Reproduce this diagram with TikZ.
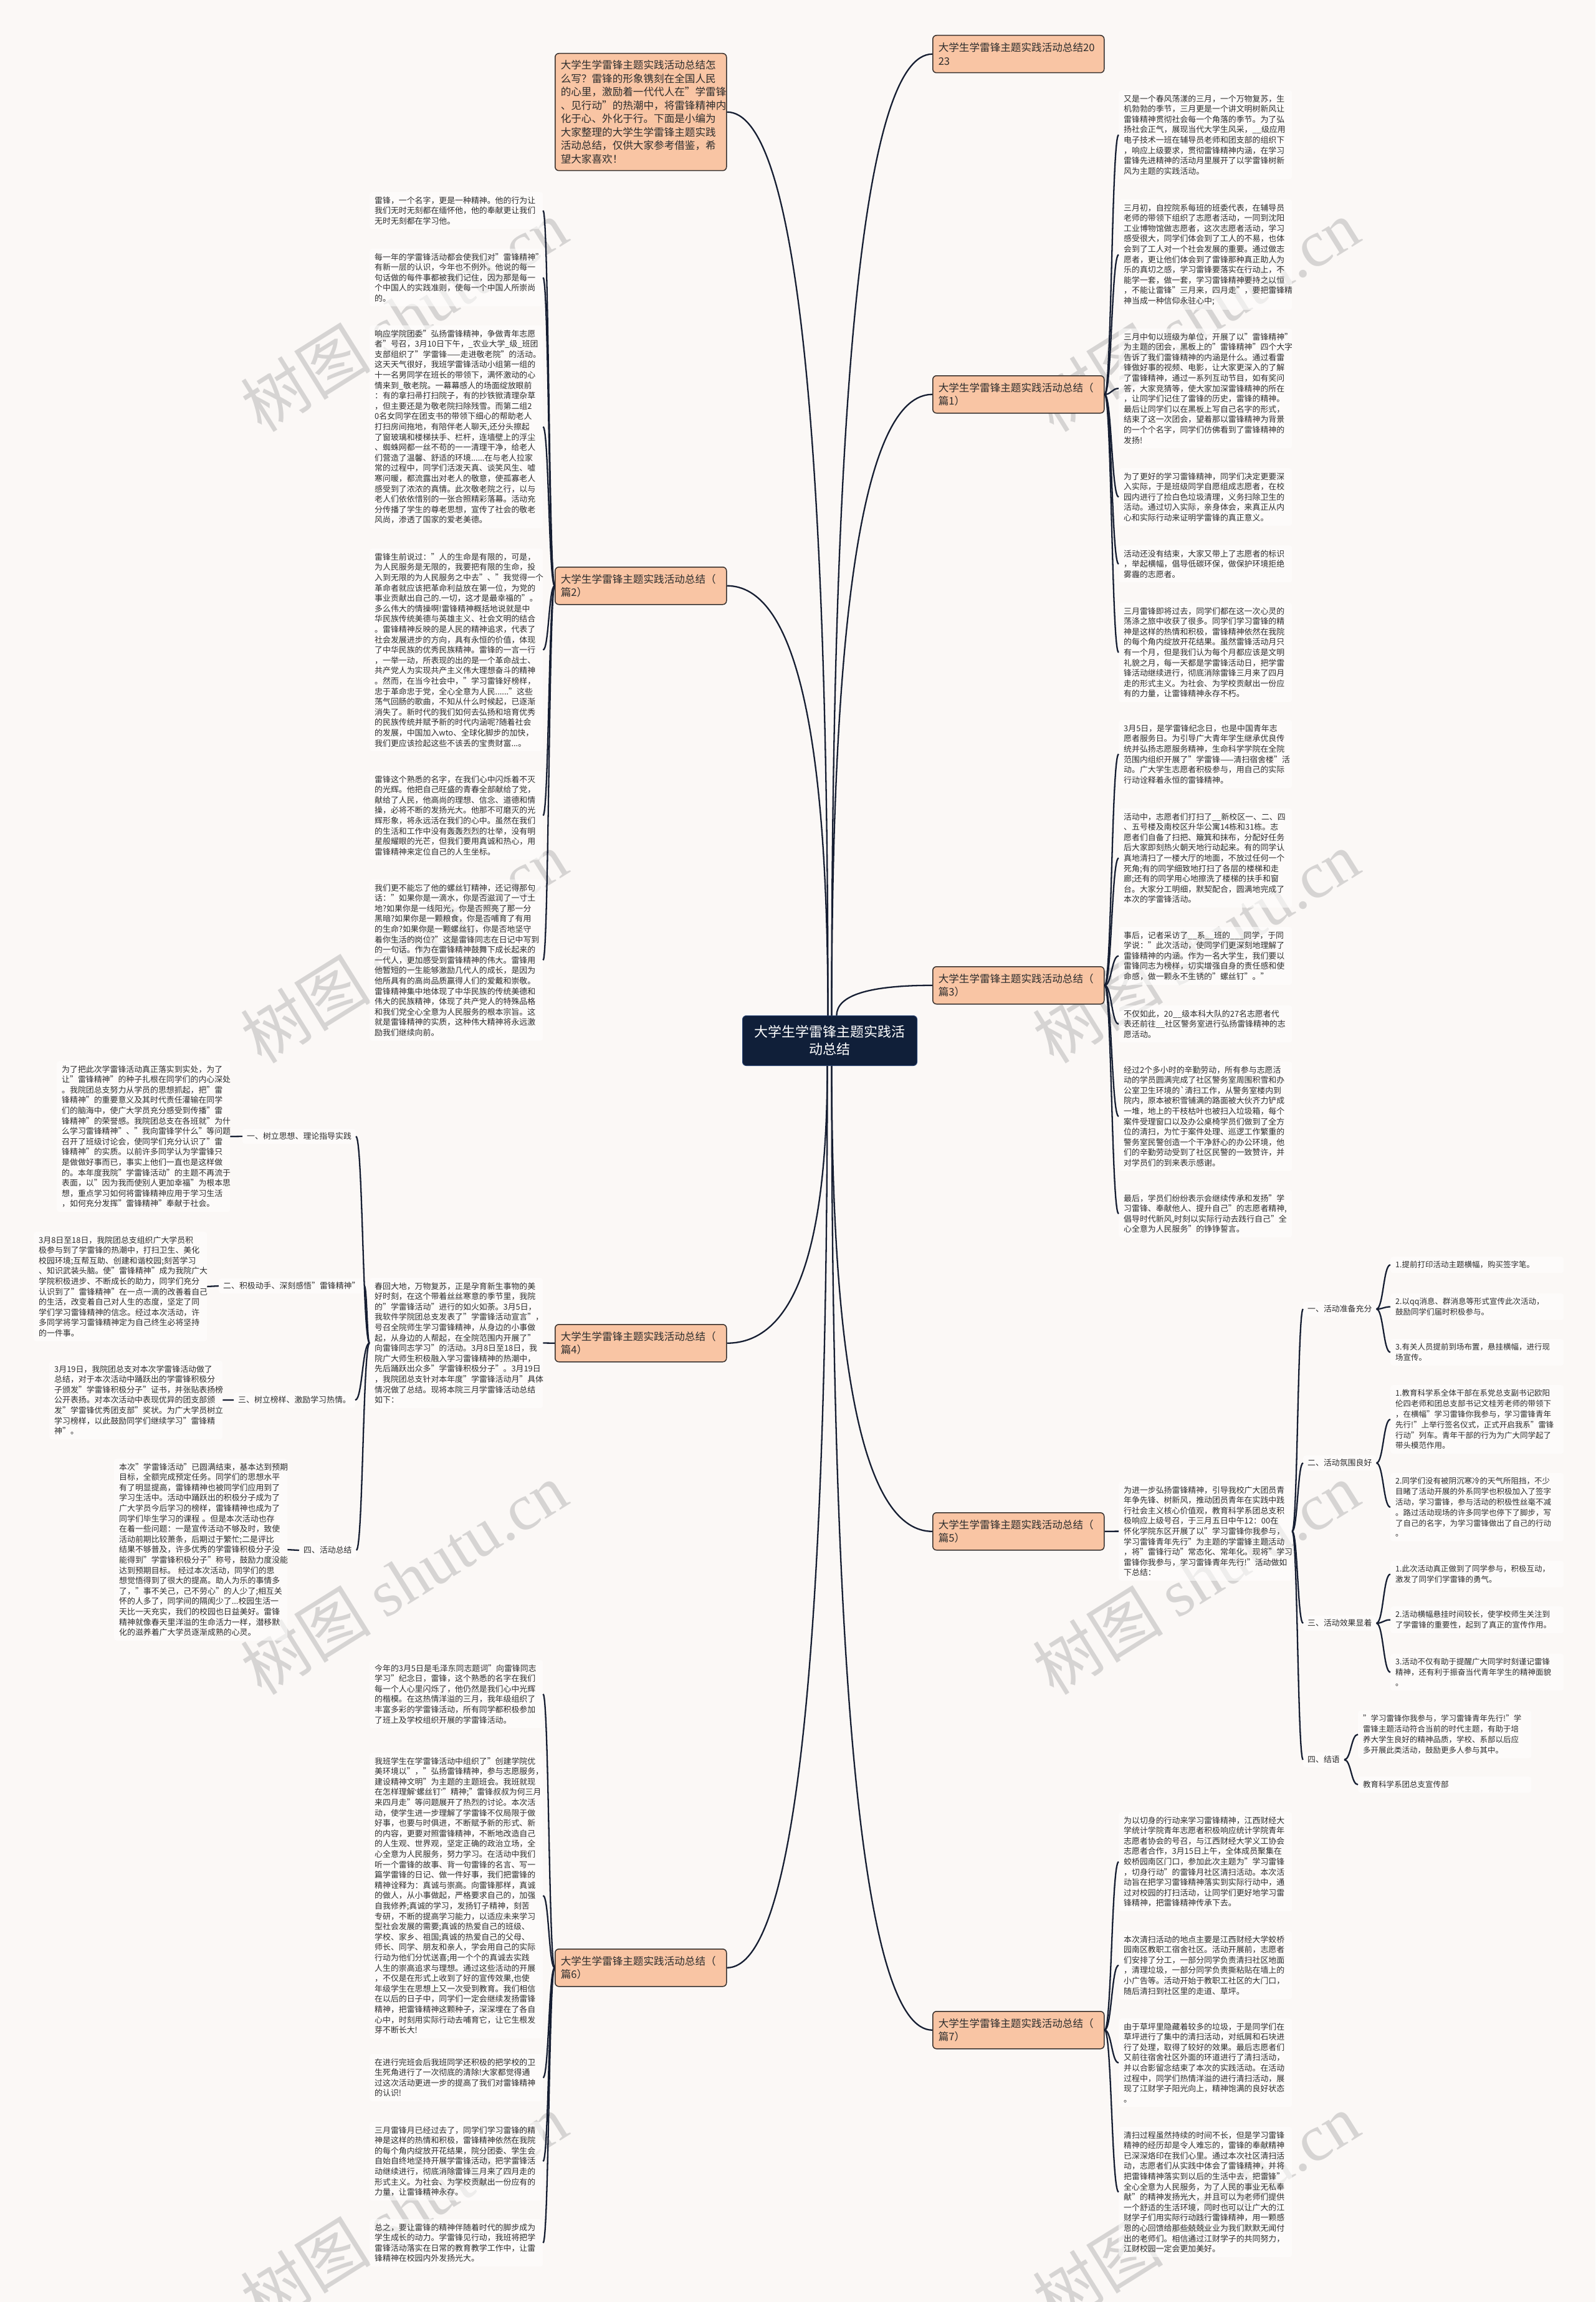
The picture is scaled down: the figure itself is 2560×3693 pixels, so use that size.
\documentclass[tikz,border=0pt]{standalone}
\usepackage{fontspec}
\setmainfont{Noto Sans CJK SC}
\newfontfamily\wmlat{Liberation Serif}
\newfontfamily\latq{Liberation Sans}
\usetikzlibrary{calc}
\definecolor{bgc}{RGB}{251,248,246}
\definecolor{boxc}{RGB}{255,254,253}
\definecolor{txtc}{RGB}{45,45,45}
\definecolor{peach}{RGB}{249,197,164}
\definecolor{bordc}{RGB}{55,48,45}
\definecolor{navy}{RGB}{16,31,57}
\definecolor{navyb}{RGB}{35,62,110}
\definecolor{linec}{RGB}{22,30,50}
\definecolor{wmc}{RGB}{214,212,211}
\tikzset{
 txt/.style={anchor=north west, align=left, text width=262pt, font=\fontsize{12.9pt}{16.6pt}\selectfont, text=txtc, fill=boxc, fill opacity=0.6, text opacity=1, rounded corners=4pt, inner xsep=8pt, inner ysep=7pt},
 leaf/.style={txt, font=\fontsize{12.5pt}{16.8pt}\selectfont},
 lbl/.style={anchor=west, font=\fontsize{12.9pt}{16.6pt}\selectfont, text=txtc, fill=boxc, fill opacity=0.6, text opacity=1, rounded corners=4pt, inner xsep=7pt, inner ysep=6pt},
 pbox/.style={anchor=north west, align=left, text width=257pt, draw=bordc, line width=1.5pt, fill=peach, rounded corners=6pt, inner xsep=9pt, inner ysep=8pt, minimum height=60pt, font=\fontsize{16.6pt}{21.5pt}\selectfont, text=txtc},
 cbox/.style={anchor=north west, align=center, text width=244pt, fill=navy, draw=navyb, line width=1pt, rounded corners=6pt, inner xsep=18pt, minimum height=80pt, font=\fontsize{22pt}{28pt}\selectfont, text=white},
 conn/.style={draw=linec, line width=2.3pt},
 wm/.style={text=wmc, font=\fontsize{105pt}{105pt}\selectfont, rotate=32},
}
\newcommand\lnk[2]{\draw[conn] let \p1=(#1), \p2=(#2) in (\p1) .. controls ({(\x1+\x2)/2},\y1) and ({(\x1+\x2)/2},\y2) .. (\p2);}
\newcommand\lnkq[2]{\draw[conn] let \p1=(#1), \p2=(#2) in (\p1) .. controls (\x1,{\y1+2/3*(\y2-\y1)}) and ({\x2+2/3*(\x1-\x2)},\y2) .. (\p2);}
\newcommand\tb[4]{\node[txt] (#1) at (#2-8,#3-13) {#4};}
\newcommand\lf[4]{\node[leaf] (#1) at (#2-8,#3-13) {#4};}
\begin{document}
\XeTeXdashbreakstate=0
\hyphenpenalty=10000
\exhyphenpenalty=10000
\begin{tikzpicture}[x=1pt,y=-1pt]
\fill[bgc] (0,0) rectangle (2560,3693);
\useasboundingbox (0,0) rectangle (2560,3693);
% watermarks
\foreach \wx in {648,1919}{
 \foreach \wy in {506,1519,2532,3544}{
  \node[wm] at (\wx,\wy) {树图 {\wmlat shutu.cn}};
 }
}
% main boxes
\node[pbox, inner ysep=11pt] (intro) at (890,85) {大学生学雷锋主题实践活动总结怎\\么写？雷锋的形象镌刻在全国人民\\的心里，激励着一代代人在"学雷锋\\、见行动"的热潮中，将雷锋精神内\\化于心、外化于行。下面是小编为\\大家整理的大学生学雷锋主题实践\\活动总结，仅供大家参考借鉴，希\\望大家喜欢！};
\node[pbox] (p2) at (890,909) {大学生学雷锋主题实践活动总结（\\篇2）};
\node[pbox] (p4) at (890,2124) {大学生学雷锋主题实践活动总结（\\篇4）};
\node[pbox] (p6) at (890,3126) {大学生学雷锋主题实践活动总结（\\篇6）};
\node[pbox] (p0) at (1496,56) {大学生学雷锋主题实践活动总结20\\23};
\node[pbox] (p1) at (1496,602) {大学生学雷锋主题实践活动总结（\\篇1）};
\node[pbox] (p3) at (1496,1550) {大学生学雷锋主题实践活动总结（\\篇3）};
\node[pbox] (p5) at (1496,2426) {大学生学雷锋主题实践活动总结（\\篇5）};
\node[pbox] (p7) at (1496,3226) {大学生学雷锋主题实践活动总结（\\篇7）};
% center
\node[cbox] (c) at (1191,1629) {大学生学雷锋主题实践活\\动总结};
\coordinate (ctl) at ($(c.north)+(-3,0)$);
\coordinate (ctr) at ($(c.north)+(3,0)$);
\coordinate (ct3) at ($(c.north)+(11,0)$);
\coordinate (cbl) at ($(c.south)+(-4,0)$);
\coordinate (cbr) at ($(c.south)+(3,0)$);
\lnkq{ctl}{intro.east}
\lnkq{ctl}{p2.east}
\lnkq{ctr}{p0.west}
\lnkq{ctr}{p1.west}
\lnkq{ct3}{p3.west}
\lnkq{cbl}{p4.east}
\lnkq{cbl}{p6.east}
\lnkq{cbr}{p5.west}
\lnkq{cbr}{p7.west}
% ---- 篇2
\tb{b1}{601}{321}{雷锋，一个名字，更是一种精神。他的行为让\\我们无时无刻都在缅怀他，他的奉献更让我们\\无时无刻都在学习他。}
\tb{b2}{601}{412}{每一年的学雷锋活动都会使我们对"雷锋精神"\\有新一层的认识，今年也不例外。他说的每一\\句话做的每件事都被我们记住，因为那是每一\\个中国人的实践准则，使每一个中国人所崇尚\\的。}
\tb{b3}{601}{535}{响应学院团委"弘扬雷锋精神，争做青年志愿\\者"号召，3月10日下午，\_农业大学\_级\_班团\\支部组织了"学雷锋——走进敬老院"的活动。\\这天天气很好，我班学雷锋活动小组第一组的\\十一名男同学在班长的带领下，满怀激动的心\\情来到\_敬老院。一幕幕感人的场面绽放眼前\\：有的拿扫帚打扫院子，有的抄铁锨清理杂草\\，但主要还是为敬老院扫除残雪。而第二组2\\0名女同学在团支书的带领下细心的帮助老人\\打扫房间拖地，有陪伴老人聊天,还分头擦起\\了窗玻璃和楼梯扶手、栏杆，连墙壁上的浮尘\\、蜘蛛网都一丝不苟的一一清理干净，给老人\\们营造了温馨、舒适的环境......在与老人拉家\\常的过程中，同学们活泼天真、谈笑风生、嘘\\寒问暖，都流露出对老人的敬意，使孤寡老人\\感受到了浓浓的真情。此次敬老院之行，以与\\老人们依依惜别的一张合照精彩落幕。活动充\\分传播了学生的尊老思想，宣传了社会的敬老\\风尚，渗透了国家的爱老美德。}
\tb{b4}{601}{893}{雷锋生前说过："人的生命是有限的，可是，\\为人民服务是无限的，我要把有限的生命，投\\入到无限的为人民服务之中去"、"我觉得一个\\革命者就应该把革命利益放在第一位，为党的\\事业贡献出自己的.一切，这才是最幸福的"。\\多么伟大的情操啊!雷锋精神概括地说就是中\\华民族传统美德与英雄主义、社会文明的结合\\。雷锋精神反映的是人民的精神追求，代表了\\社会发展进步的方向，具有永恒的价值，体现\\了中华民族的优秀民族精神。雷锋的一言一行\\，一举一动，所表现的出的是一个革命战士、\\共产党人为实现共产主义伟大理想奋斗的精神\\。然而，在当今社会中，"学习雷锋好榜样，\\忠于革命忠于党，全心全意为人民......"这些\\荡气回肠的歌曲，不知从什么时候起，已逐渐\\消失了。新时代的我们如何去弘扬和培育优秀\\的民族传统并赋予新的时代内涵呢?随着社会\\的发展，中国加入wto、全球化脚步的加快，\\我们更应该捡起这些不该丢的宝贵财富...。}
\tb{b5}{601}{1250}{雷锋这个熟悉的名字，在我们心中闪烁着不灭\\的光辉。他把自己旺盛的青春全部献给了党，\\献给了人民，他高尚的理想、信念、道德和情\\操，必将不断的发扬光大。他那不可磨灭的光\\辉形象，将永远活在我们的心中。虽然在我们\\的生活和工作中没有轰轰烈烈的壮举，没有明\\星般耀眼的光芒，但我们要用真诚和热心，用\\雷锋精神来定位自己的人生坐标。}
\tb{b6}{601}{1424}{我们更不能忘了他的螺丝钉精神，还记得那句\\话："如果你是一滴水，你是否滋润了一寸土\\地?如果你是一线阳光，你是否照亮了那一分\\黑暗?如果你是一颗粮食，你是否哺育了有用\\的生命?如果你是一颗螺丝钉，你是否地坚守\\着你生活的岗位?"这是雷锋同志在日记中写到\\的一句话。作为在雷锋精神鼓舞下成长起来的\\一代人，更加感受到雷锋精神的伟大。雷锋用\\他暂短的一生能够激励几代人的成长，是因为\\他所具有的高尚品质赢得人们的爱戴和崇敬。\\雷锋精神集中地体现了中华民族的传统美德和\\伟大的民族精神，体现了共产党人的特殊品格\\和我们党全心全意为人民服务的根本宗旨。这\\就是雷锋精神的实质，这种伟大精神将永远激\\励我们继续向前。}
\foreach \k in {b1,b2,b3,b4,b5,b6}{\lnk{p2.west}{\k.east}}
% ---- 篇4
\tb{g}{601}{2063}{春回大地，万物复苏，正是孕育新生事物的美\\好时刻，在这个带着丝丝寒意的季节里，我院\\的"学雷锋活动"进行的如火如荼。3月5日，\\我软件学院团总支发表了"学雷锋活动宣言"，\\号召全院师生学习雷锋精神，从身边的小事做\\起，从身边的人帮起，在全院范围内开展了"\\向雷锋同志学习"的活动。3月8日至18日，我\\院广大师生积极融入学习雷锋精神的热潮中，\\先后踊跃出众多"学雷锋积极分子"。3月19日\\，我院团总支针对本年度"学雷锋活动月"具体\\情况做了总结。现将本院三月学雷锋活动总结\\如下：}
\lnk{p4.west}{g.east}
\node[lbl] (g1) at (389,1823) {一、树立思想、理论指导实践};
\node[lbl] (g2) at (351,2063) {二、积极动手、深刻感悟"雷锋精神"};
\node[lbl] (g3) at (375,2246) {三、树立榜样、激励学习热情。};
\node[lbl] (g4) at (480,2487) {四、活动总结};
\foreach \k in {g1,g2,g3,g4}{\lnk{g.west}{\k.east}}
\tb{l1}{99}{1715}{为了把此次学雷锋活动真正落实到实处，为了\\让"雷锋精神"的种子扎根在同学们的内心深处\\。我院团总支努力从学员的思想抓起，把"雷\\锋精神"的重要意义及其时代责任灌输在同学\\们的脑海中，使广大学员充分感受到传播"雷\\锋精神"的荣誉感。我院团总支在各班就"为什\\么学习雷锋精神"、"我向雷锋学什么"等问题\\召开了班级讨论会，使同学们充分认识了"雷\\锋精神"的实质。以前许多同学认为学雷锋只\\是做做好事而已，事实上他们一直也是这样做\\的。本年度我院"学雷锋活动"的主题不再流于\\表面，以"因为我而使别人更加幸福"为根本思\\想，重点学习如何将雷锋精神应用于学习生活\\，如何充分发挥"雷锋精神"奉献于社会。}
\tb{l2}{62}{1989}{3月8日至18日，我院团总支组织广大学员积\\极参与到了学雷锋的热潮中，打扫卫生、美化\\校园环境;互帮互助、创建和谐校园;刻苦学习\\、知识武装头脑。使"雷锋精神"成为我院广大\\学院积极进步、不断成长的助力，同学们充分\\认识到了"雷锋精神"在一点一滴的改善着自己\\的生活，改变着自己对人生的态度，坚定了同\\学们学习雷锋精神的信念。经过本次活动，许\\多同学将学习雷锋精神定为自己终生必将坚持\\的一件事。}
\tb{l3}{87}{2196}{3月19日，我院团总支对本次学雷锋活动做了\\总结，对于本次活动中踊跃出的学雷锋积极分\\子颁发"学雷锋积极分子"证书，并张贴表扬榜\\公开表扬。对本次活动中表现优异的团支部颁\\发"学雷锋优秀团支部"奖状。为广大学员树立\\学习榜样，以此鼓励同学们继续学习"雷锋精\\神"。}
\tb{l4}{191}{2353}{本次"学雷锋活动"已圆满结束，基本达到预期\\目标，全额完成预定任务。同学们的思想水平\\有了明显提高，雷锋精神也被同学们应用到了\\学习生活中。活动中踊跃出的积极分子成为了\\广大学员今后学习的榜样，雷锋精神也成为了\\同学们毕生学习的课程~。但是本次活动也存\\在着一些问题：一是宣传活动不够及时，致使\\活动前期比较萧条，后期过于繁忙;二是评比\\结果不够普及，许多优秀的学雷锋积极分子没\\能得到"学雷锋积极分子"称号，鼓励力度没能\\达到预期目标。~经过本次活动，同学们的思\\想觉悟得到了很大的提高。助人为乐的事情多\\了，"事不关己，己不劳心"的人少了;相互关\\怀的人多了，同学间的隔阂少了...校园生活一\\天比一天充实，我们的校园也日益美好。雷锋\\精神就像春天里洋溢的生命活力一样，潜移默\\化的滋养着广大学员逐渐成熟的心灵。}
\draw[conn] (l1.east) -- (g1.west);
\draw[conn] (l2.east) -- (g2.west);
\draw[conn] (l3.east) -- (g3.west);
\draw[conn] (l4.east) -- (g4.west);
% ---- 篇6
\tb{h1}{601}{2676}{今年的3月5日是毛泽东同志题词"向雷锋同志\\学习"纪念日，雷锋，这个熟悉的名字在我们\\每一个人心里闪烁了，他仍然是我们心中光辉\\的楷模。在这热情洋溢的三月，我年级组织了\\丰富多彩的学雷锋活动，所有同学都积极参加\\了班上及学校组织开展的学雷锋活动。}
\tb{h2}{601}{2825}{我班学生在学雷锋活动中组织了"创建学院优\\美环境以"，"弘扬雷锋精神，参与志愿服务，\\建设精神文明"为主题的主题班会。我班就现\\在怎样理解{\latq ‘}螺丝钉{\latq ’}"精神;"雷锋叔叔为何三月\\来四月走"等问题展开了热烈的讨论。本次活\\动，使学生进一步理解了学雷锋不仅局限于做\\好事，也要与时俱进，不断赋予新的形式、新\\的内容，更要对照雷锋精神，不断地改造自己\\的人生观、世界观，坚定正确的政治立场，全\\心全意为人民服务，努力学习。在活动中我们\\听一个雷锋的故事、背一句雷锋的名言、写一\\篇学雷锋的日记、做一件好事，我们把雷锋的\\精神诠释为：真诚与崇高。向雷锋那样，真诚\\的做人，从小事做起，严格要求自己的，加强\\自我修养;真诚的学习，发扬钉子精神，刻苦\\专研，不断的提高学习能力，以适应未来学习\\型社会发展的需要;真诚的热爱自己的班级、\\学校、家乡、祖国;真诚的热爱自己的父母、\\师长、同学、朋友和亲人，学会用自己的实际\\行动为他们分忧送喜;用一个个的真诚去实践\\人生的崇高追求与理想。通过这些活动的开展\\，不仅是在形式上收到了好的宣传效果,也使\\年级学生在思想上又一次受到教育。我们相信\\在以后的日子中，同学们一定会继续发扬雷锋\\精神，把雷锋精神这颗种子，深深埋在了各自\\心中，时刻用实际行动去哺育它，让它生根发\\芽不断长大!}
\tb{h3}{601}{3308}{在进行完班会后我班同学还积极的把学校的卫\\生死角进行了一次彻底的清除!大家都觉得通\\过这次活动更进一步的提高了我们对雷锋精神\\的认识!}
\tb{h4}{601}{3417}{三月雷锋月已经过去了，同学们学习雷锋的精\\神是这样的热情和积极，雷锋精神依然在我院\\的每个角内绽放开花结果，院分团委、学生会\\自始自终地坚持开展学雷锋活动，把学雷锋活\\动继续进行，彻底消除雷锋三月来了四月走的\\形式主义。为社会、为学校贡献出一份应有的\\力量，让雷锋精神永存。}
\tb{h5}{601}{3573}{总之，要让雷锋的精神伴随着时代的脚步成为\\学生成长的动力。学雷锋见行动，我班将把学\\雷锋活动落实在日常的教育教学工作中，让雷\\锋精神在校园内外发扬光大。}
\foreach \k in {h1,h2,h3,h4,h5}{\lnk{p6.west}{\k.east}}
% ---- 篇1
\tb{q1}{1803}{158}{又是一个春风荡漾的三月，一个万物复苏，生\\机勃勃的季节，三月更是一个讲文明树新风让\\雷锋精神贯彻社会每一个角落的季节。为了弘\\扬社会正气，展现当代大学生风采，\_\_级应用\\电子技术一班在辅导员老师和团支部的组织下\\，响应上级要求，贯彻雷锋精神内涵，在学习\\雷锋先进精神的活动月里展开了以学雷锋树新\\风为主题的实践活动。}
\tb{q2}{1803}{333}{三月初，自控院系每班的班委代表，在辅导员\\老师的带领下组织了志愿者活动，一同到沈阳\\工业博物馆做志愿者，这次志愿者活动，学习\\感受很大，同学们体会到了工人的不易，也体\\会到了工人对一个社会发展的重要。通过做志\\愿者，更让他们体会到了雷锋那种真正助人为\\乐的真切之感，学习雷锋要落实在行动上，不\\能学一套，做一套，学习雷锋精神要持之以恒\\，不能让雷锋"三月来，四月走"，要把雷锋精\\神当成一种信仰永驻心中;}
\tb{q3}{1803}{540}{三月中旬以班级为单位，开展了以"雷锋精神"\\为主题的团会，黑板上的"雷锋精神"四个大字\\告诉了我们雷锋精神的内涵是什么。通过看雷\\锋做好事的视频、电影，让大家更深入的了解\\了雷锋精神，通过一系列互动节目，如有奖问\\答，大家竞猜等，使大家加深雷锋精神的所在\\，让同学们记住了雷锋的历史，雷锋的精神。\\最后让同学们以在黑板上写自己名字的形式，\\结束了这一次团会，望着那以雷锋精神为背景\\的一个个名字，同学们仿佛看到了雷锋精神的\\发扬!}
\tb{q4}{1803}{764}{为了更好的学习雷锋精神，同学们决定更要深\\入实际，于是班级同学自愿组成志愿者，在校\\园内进行了捡白色垃圾清理，义务扫除卫生的\\活动。通过切入实际，亲身体会，来真正从内\\心和实际行动来证明学雷锋的真正意义。}
\tb{q5}{1803}{888}{活动还没有结束，大家又带上了志愿者的标识\\，举起横幅，倡导低碳环保，做保护环境拒绝\\雾霾的志愿者。}
\tb{q6}{1803}{980}{三月雷锋即将过去，同学们都在这一次心灵的\\荡涤之旅中收获了很多。同学们学习雷锋的精\\神是这样的热情和积极，雷锋精神依然在我院\\的每个角内绽放开花结果。虽然雷锋活动月只\\有一个月，但是我们认为每个月都应该是文明\\礼貌之月，每一天都是学雷锋活动日，把学雷\\锋活动继续进行，彻底消除雷锋三月来了四月\\走的形式主义。为社会、为学校贡献出一份应\\有的力量，让雷锋精神永存不朽。}
\foreach \k in {q1,q2,q3,q4,q5,q6}{\lnk{p1.east}{\k.west}}
% ---- 篇3
\tb{w1}{1803}{1168}{3月5日，是学雷锋纪念日，也是中国青年志\\愿者服务日。为引导广大青年学生继承优良传\\统并弘扬志愿服务精神，生命科学学院在全院\\范围内组织开展了"学雷锋——清扫宿舍楼"活\\动。广大学生志愿者积极参与，用自己的实际\\行动诠释着永恒的雷锋精神。}
\tb{w2}{1803}{1310}{活动中，志愿者们打扫了\_\_新校区一、二、四\\、五号楼及南校区升华公寓14栋和31栋。志\\愿者们自备了扫把、簸箕和抹布，分配好任务\\后大家即刻热火朝天地行动起来。有的同学认\\真地清扫了一楼大厅的地面，不放过任何一个\\死角;有的同学细致地打扫了各层的楼梯和走\\廊;还有的同学用心地擦洗了楼梯的扶手和窗\\台。大家分工明细，默契配合，圆满地完成了\\本次的学雷锋活动。}
\tb{w3}{1803}{1500}{事后，记者采访了\_\_系\_\_班的\_\_\_同学，于同\\学说："此次活动，使同学们更深刻地理解了\\雷锋精神的内涵。作为一名大学生，我们要以\\雷锋同志为榜样，切实增强自身的责任感和使\\命感，做一颗永不生锈的"螺丝钉"。"}
\tb{w4}{1803}{1626}{不仅如此，20\_\_级本科大队的27名志愿者代\\表还前往\_\_社区警务室进行弘扬雷锋精神的志\\愿活动。}
\tb{w5}{1803}{1716}{经过2个多小时的辛勤劳动，所有参与志愿活\\动的学员圆满完成了社区警务室周围积雪和办\\公室卫生环境的\textasciigrave 清扫工作，从警务室楼内到\\院内，原本被积雪铺满的路面被大伙齐力铲成\\一堆，地上的干枝枯叶也被扫入垃圾箱，每个\\案件受理窗口以及办公桌椅学员们做到了全方\\位的清扫，为忙于案件处理、巡逻工作繁重的\\警务室民警创造一个干净舒心的办公环境，他\\们的辛勤劳动受到了社区民警的一致赞许，并\\对学员们的到来表示感谢。}
\tb{w6}{1803}{1922}{最后，学员们纷纷表示会继续传承和发扬"学\\习雷锋、奉献他人、提升自己"的志愿者精神,\\倡导时代新风,时刻以实际行动去践行自己"全\\心全意为人民服务"的铮铮誓言。}
\foreach \k in {w1,w2,w3,w4,w5,w6}{\lnk{p3.east}{\k.west}}
% ---- 篇5
\tb{ac}{1803}{2390}{为进一步弘扬雷锋精神，引导我校广大团员青\\年争先锋、树新风，推动团员青年在实践中践\\行社会主义核心价值观，教育科学系团总支积\\极响应上级号召，于三月五日中午12：00在\\怀化学院东区开展了以"学习雷锋你我参与，\\学习雷锋青年先行"为主题的学雷锋主题活动\\，将"雷锋行动"常态化、常年化。现将"学习\\雷锋你我参与，学习雷锋青年先行!"活动做如\\下总结：}
\lnk{p5.east}{ac.west}
\node[lbl] (s1) at (2091,2100) {一、活动准备充分};
\node[lbl] (s2) at (2091,2347) {二、活动氛围良好};
\node[lbl] (s3) at (2091,2604) {三、活动效果显着};
\node[lbl] (s4) at (2091,2823) {四、结语};
\foreach \k in {s1,s2,s3,s4}{\lnk{ac.east}{\k.west}}
\lf{a1}{2239}{2029}{1.提前打印活动主题横幅，购买签字笔。}
\lf{a2}{2239}{2088}{2.以qq消息、群消息等形式宣传此次活动，\\鼓励同学们届时积极参与。}
\lf{a3}{2239}{2161}{3.有关人员提前到场布置，悬挂横幅，进行现\\场宣传。}
\lf{b1x}{2239}{2235}{1.教育科学系全体干部在系党总支副书记欧阳\\伦四老师和团总支部书记文桂芳老师的带领下\\，在横幅"学习雷锋你我参与，学习雷锋青年\\先行!"上举行签名仪式，正式开启我系"雷锋\\行动"列车。青年干部的行为为广大同学起了\\带头模范作用。}
\lf{b2x}{2239}{2376}{2.同学们没有被阴沉寒冷的天气所阻挡，不少\\目睹了活动开展的外系同学也积极加入了签字\\活动，学习雷锋，参与活动的积极性丝毫不减\\。路过活动现场的许多同学也停下了脚步，写\\了自己的名字，为学习雷锋做出了自己的行动\\。}
\lf{c1x}{2239}{2517}{1.此次活动真正做到了同学参与，积极互动，\\激发了同学们学雷锋的勇气。}
\lf{c2x}{2239}{2590}{2.活动横幅悬挂时间较长，使学校师生关注到\\了学雷锋的重要性，起到了真正的宣传作用。}
\lf{c3x}{2239}{2666}{3.活动不仅有助于提醒广大同学时刻谨记雷锋\\精神，还有利于振奋当代青年学生的精神面貌\\。}
\lf{d1x}{2187}{2757}{"学习雷锋你我参与，学习雷锋青年先行!"学\\雷锋主题活动符合当前的时代主题，有助于培\\养大学生良好的精神品质，学校、系部以后应\\多开展此类活动，鼓励更多人参与其中。}
\lf{d2x}{2187}{2863}{教育科学系团总支宣传部}
\foreach \k in {a1,a2,a3}{\lnk{s1.east}{\k.west}}
\foreach \k in {b1x,b2x}{\lnk{s2.east}{\k.west}}
\foreach \k in {c1x,c2x,c3x}{\lnk{s3.east}{\k.west}}
\foreach \k in {d1x,d2x}{\lnk{s4.east}{\k.west}}
% ---- 篇7
\tb{e1}{1803}{2920}{为以切身的行动来学习雷锋精神，江西财经大\\学统计学院青年志愿者积极响应统计学院青年\\志愿者协会的号召，与江西财经大学义工协会\\志愿者合作，3月15日上午，全体成员聚集在\\蛟桥园南区门口，参加此次主题为"学习雷锋\\，切身行动"的雷锋月社区清扫活动。本次活\\动旨在把学习雷锋精神落实到实际行动中，通\\过对校园的打扫活动，让同学们更好地学习雷\\锋精神，把雷锋精神传承下去。}
\tb{e2}{1803}{3111}{本次清扫活动的地点主要是江西财经大学蛟桥\\园南区教职工宿舍社区。活动开展前，志愿者\\们安排了分工，一部分同学负责清扫社区地面\\，清理垃圾，一部分同学负责撕粘贴在墙上的\\小广告等。活动开始于教职工社区的大门口，\\随后清扫到社区里的走道、草坪。}
\tb{e3}{1803}{3251}{由于草坪里隐藏着较多的垃圾，于是同学们在\\草坪进行了集中的清扫活动，对纸屑和石块进\\行了处理，取得了较好的效果。最后志愿者们\\又前往宿舍社区外面的环道进行了清扫活动，\\并以合影留念结束了本次的实践活动。在活动\\过程中，同学们热情洋溢的进行清扫活动，展\\现了江财学子阳光向上，精神饱满的良好状态\\。}
\tb{e4}{1803}{3425}{清扫过程虽然持续的时间不长，但是学习雷锋\\精神的经历却是令人难忘的，雷锋的奉献精神\\已深深烙印在我们心里。通过本次社区清扫活\\动，志愿者们从实践中体会了雷锋精神，并将\\把雷锋精神落实到以后的生活中去，把雷锋"\\全心全意为人民服务，为了人民的事业无私奉\\献"的精神发扬光大，并且可以为老师们提供\\一个舒适的生活环境，同时也可以让广大的江\\财学子们用实际行动践行雷锋精神，用一颗感\\恩的心回馈给那些兢兢业业为我们默默无闻付\\出的老师们。相信通过江财学子的共同努力，\\江财校园一定会更加美好。}
\foreach \k in {e1,e2,e3,e4}{\lnk{p7.east}{\k.west}}
\end{tikzpicture}
\end{document}
